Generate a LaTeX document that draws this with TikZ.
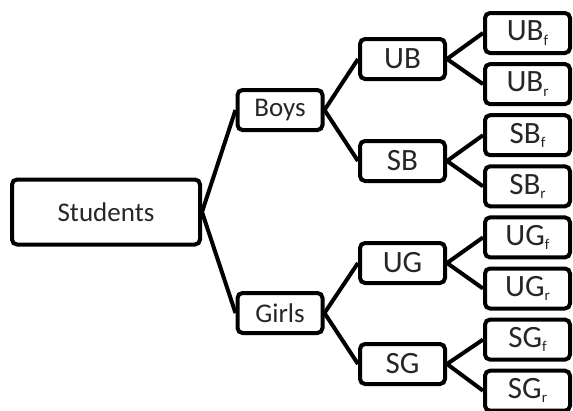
\documentclass[tikz,border=0pt]{standalone}
\usepackage{fontspec}
\setmainfont{Carlito}
\usepackage{tikz}

% small lowered index for the leaf labels
\newcommand{\lowidx}[1]{\raisebox{-0.3ex}{\fontsize{15}{15}\selectfont #1}}

\begin{document}
\begin{tikzpicture}[x=1pt,y=-1pt]
                \tikzstyle{every node}+=[inner sep=0pt]
                \tikzstyle{box}=[draw=black, line width=4pt, rounded corners=5pt,
                  minimum width=85pt, minimum height=40pt, text=black!85,
                  font=\fontsize{31}{33}\selectfont]
                \tikzstyle{small box}=[box, font=\fontsize{27}{30}\selectfont]
                \tikzstyle{link}=[black, line width=4pt]
                \useasboundingbox (0,0) rectangle (573,410);
                % root and first split
                \node [small box, minimum width=188pt, minimum height=65pt] (students) at (106,212) {Students};
                \node [small box] (boys) at (280,110) {Boys};
                \node [small box] (girls) at (280,313) {Girls};
                % second split
                \node [box] (ub) at (402.5,59) {UB};
                \node [box] (sb) at (402.5,161) {SB};
                \node [box] (ug) at (402.5,263) {UG};
                \node [box] (sg) at (402.5,364) {SG};
                % leaves
                \node [box] (ubf) at (527.5,33) {UB\lowidx{f}};
                \node [box] (ubr) at (527.5,84.1) {UB\lowidx{r}};
                \node [box] (sbf) at (527.5,135.2) {SB\lowidx{f}};
                \node [box] (sbr) at (527.5,186.3) {SB\lowidx{r}};
                \node [box] (ugf) at (527.5,237.4) {UG\lowidx{f}};
                \node [box] (ugr) at (527.5,288.5) {UG\lowidx{r}};
                \node [box] (sgf) at (527.5,339.6) {SG\lowidx{f}};
                \node [box] (sgr) at (527.5,390.7) {SG\lowidx{r}};
                % branches
                \draw [link] (students.east) -- (boys.west);
                \draw [link] (students.east) -- (girls.west);
                \draw [link] (boys.east) -- (ub.west);
                \draw [link] (boys.east) -- (sb.west);
                \draw [link] (girls.east) -- (ug.west);
                \draw [link] (girls.east) -- (sg.west);
                \draw [link] (ub.east) -- (ubf.west);
                \draw [link] (ub.east) -- (ubr.west);
                \draw [link] (sb.east) -- (sbf.west);
                \draw [link] (sb.east) -- (sbr.west);
                \draw [link] (ug.east) -- (ugf.west);
                \draw [link] (ug.east) -- (ugr.west);
                \draw [link] (sg.east) -- (sgf.west);
                \draw [link] (sg.east) -- (sgr.west);
\end{tikzpicture}
\end{document}
